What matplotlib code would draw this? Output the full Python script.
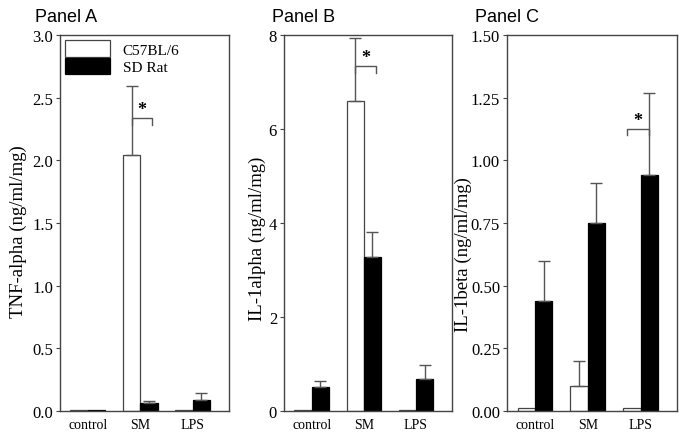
import numpy as np
import matplotlib
matplotlib.use('Agg')
import matplotlib.pyplot as plt

groups = ['control', 'SM', 'LPS']

# panel A: TNF-alpha
tnf_c57 = [0.01, 2.04, 0.01]
tnf_c57_err = [0.0, 0.55, 0.0]
tnf_rat = [0.01, 0.06, 0.09]
tnf_rat_err = [0.0, 0.02, 0.05]

# panel B: IL-1alpha
il1a_c57 = [0.02, 6.6, 0.02]
il1a_c57_err = [0.0, 1.33, 0.0]
il1a_rat = [0.52, 3.28, 0.68]
il1a_rat_err = [0.11, 0.52, 0.30]

# panel C: IL-1beta
il1b_c57 = [0.01, 0.10, 0.01]
il1b_c57_err = [0.0, 0.10, 0.0]
il1b_rat = [0.44, 0.75, 0.94]
il1b_rat_err = [0.16, 0.16, 0.33]

panels = [
    ('Panel A', 'TNF-alpha (ng/ml/mg)', tnf_c57, tnf_c57_err, tnf_rat, tnf_rat_err,
     3.0, [0, 0.5, 1.0, 1.5, 2.0, 2.5, 3.0], ['0.0', '0.5', '1.0', '1.5', '2.0', '2.5', '3.0']),
    ('Panel B', 'IL-1alpha (ng/ml/mg)', il1a_c57, il1a_c57_err, il1a_rat, il1a_rat_err,
     8, [0, 2, 4, 6, 8], ['0', '2', '4', '6', '8']),
    ('Panel C', 'IL-1beta (ng/ml/mg)', il1b_c57, il1b_c57_err, il1b_rat, il1b_rat_err,
     1.5, [0, 0.25, 0.5, 0.75, 1.0, 1.25, 1.5], ['0.00', '0.25', '0.50', '0.75', '1.00', '1.25', '1.50']),
]

# significance brackets: (x_left, x_right, y, drop, star_x)
brackets = [
    (0.835, 1.23, 2.34, 0.055, 1.02),
    (0.835, 1.24, 7.34, 0.14, 1.04),
    (1.75, 2.165, 1.125, 0.025, 1.94),
]

lefts = [60, 284, 507]
rights = [229, 452, 677]
ylabel_x = [-0.195, -0.107, -0.205]
ylabel_y = [0.48, 0.46, 0.42]
title_x = [35, 272, 475]

W, H = 681, 435
fig = plt.figure(figsize=(W / 100, H / 100), dpi=100, facecolor='white')

serif = ['Liberation Serif', 'DejaVu Serif']
edge = '#444444'
w = 0.33
x = np.arange(len(groups))

for i, (title, ylab, c57, c57e, rat, rate, ymax, yt, ytl) in enumerate(panels):
    ax = fig.add_axes([lefts[i] / W, 1 - 412 / H, (rights[i] - lefts[i]) / W, 376 / H])
    ax.bar(x - w / 2, c57, w, color='white', edgecolor=edge, linewidth=0.9, label='C57BL/6')
    ax.bar(x + w / 2, rat, w, color='black', edgecolor='black', linewidth=0.9, label='SD Rat')
    for xs, vals, errs in [(x - w / 2, c57, c57e), (x + w / 2, rat, rate)]:
        for xx, v, e in zip(xs, vals, errs):
            if e > 0:
                ax.errorbar(xx, v, yerr=[[0], [e]], fmt='none', ecolor='#555555',
                            elinewidth=1.0, capsize=4.5, capthick=1.0)
    xl, xr, yb, dr, sx = brackets[i]
    ax.plot([xl, xl, xr, xr], [yb - dr, yb, yb, yb - dr], color='#555555', lw=1.0)
    ax.text(sx, yb, '*', ha='center', va='bottom', fontsize=13, weight='bold', family=serif)

    ax.set_xlim(-0.53, 2.69)
    ax.set_ylim(0, ymax)
    ax.set_xticks(x)
    ax.set_xticklabels(groups, family=serif, fontsize=10)
    ax.set_yticks(yt)
    ax.set_yticklabels(ytl, family=serif, fontsize=12)
    ax.tick_params(axis='x', length=0, pad=5)
    ax.tick_params(axis='y', length=3, width=0.8, color=edge, pad=2)
    for s in ax.spines.values():
        s.set_color(edge)
        s.set_linewidth(1.0)
    ax.set_ylabel(ylab, family=serif, fontsize=13.5)
    ax.yaxis.set_label_coords(ylabel_x[i], ylabel_y[i])
    fig.text(title_x[i] / W, 1 - 17 / H, title, family=['Liberation Sans', 'DejaVu Sans'],
             fontsize=13, ha='left', va='center')
    if i == 0:
        ax.legend(loc='upper left', frameon=False, prop={'family': serif, 'size': 11},
                  handlelength=2.9, handleheight=1.3, labelspacing=0.05,
                  handletextpad=0.85, borderpad=0.25, borderaxespad=0.1)

fig.savefig('out.png', dpi=100, facecolor='white')
